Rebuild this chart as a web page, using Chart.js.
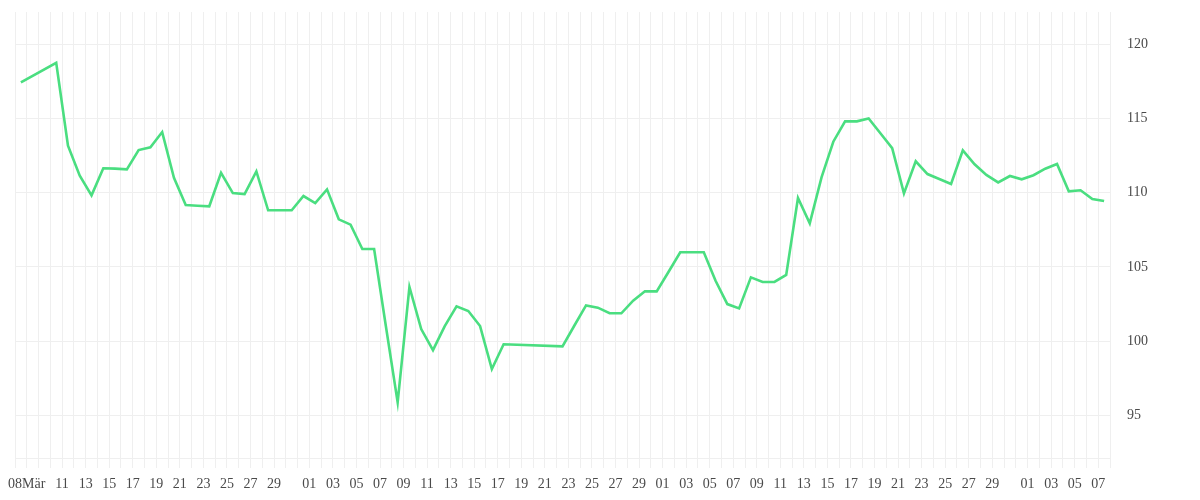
<!DOCTYPE html>
<html>
<head>
<meta charset="utf-8">
<script src="https://cdn.jsdelivr.net/npm/chart.js@4.4.1/dist/chart.umd.min.js"></script>
<style>
  html, body { margin: 0; padding: 0; background: #fff; }
  #wrap { width: 1200px; height: 500px; }
</style>
</head>
<body>
<div id="wrap"><canvas id="price-chart"></canvas></div>
<script>
// Daily closing values, 2024 (MM-DD)
const dates = [
  '03-08', '03-11', '03-12', '03-13', '03-14', '03-15', '03-16', '03-17', '03-18', '03-19',
  '03-20', '03-21', '03-22', '03-23', '03-24', '03-25', '03-26', '03-27', '03-28', '03-29',
  '03-30', '03-31', '04-01', '04-02', '04-03', '04-04', '04-05', '04-06', '04-07', '04-08',
  '04-09', '04-10', '04-11', '04-12', '04-13', '04-14', '04-15', '04-16', '04-17', '04-18',
  '04-23', '04-24', '04-25', '04-26', '04-27', '04-28', '04-29', '04-30', '05-01', '05-02',
  '05-03', '05-04', '05-05', '05-06', '05-07', '05-08', '05-09', '05-10', '05-11', '05-12',
  '05-13', '05-14', '05-15', '05-16', '05-17', '05-18', '05-19', '05-20', '05-21', '05-22',
  '05-23', '05-24', '05-25', '05-26', '05-27', '05-28', '05-29', '05-30', '05-31', '06-01',
  '06-02', '06-03', '06-04', '06-05', '06-06', '06-07', '06-08',
];
const prices = [
  117.43, 118.75, 113.16, 111.14, 109.82, 111.64, 111.62, 111.57, 112.87, 113.05,
  114.08, 111.0, 109.16, 109.12, 109.08, 111.34, 109.97, 109.9, 111.43, 108.81,
  108.81, 108.81, 109.77, 109.3, 110.22, 108.2, 107.84, 106.2, 106.2, 101.0,
  95.87, 103.64, 100.81, 99.39, 101.01, 102.34, 102.02, 101.01, 98.11, 99.78,
  99.64, 101.03, 102.4, 102.25, 101.87, 101.87, 102.72, 103.35, 103.35, 104.65,
  105.98, 105.98, 105.98, 104.06, 102.49, 102.2, 104.29, 103.98, 103.98, 104.46,
  109.64, 107.93, 111.03, 113.43, 114.8, 114.8, 115.0, 114.0, 113.0, 109.95,
  112.11, 111.25, 110.92, 110.58, 112.85, 111.91, 111.19, 110.69, 111.12, 110.9,
  111.17, 111.61, 111.93, 110.09, 110.16, 109.57, 109.43,
];
const yTicks = [95, 100, 105, 110, 115, 120];
const monthNames = ['Jan', 'Feb', 'Mär', 'Apr', 'Mai', 'Jun', 'Jul', 'Aug', 'Sep', 'Okt', 'Nov', 'Dez'];

const YEAR = 2024;
const DAY = 86400000;
const START = Date.UTC(YEAR, 2, 8);

function dayIndex(mmdd) {
  const [m, d] = mmdd.split('-').map(Number);
  return Math.round((Date.UTC(YEAR, m - 1, d) - START) / DAY);
}

// day grid lines sit half a day after each data point
function dayLabel(value) {
  const j = Math.round(value - 0.5);
  if (j === 0) return '08' + monthNames[2];
  if (j < 2) return '';
  const dt = new Date(START + j * DAY);
  const day = dt.getUTCDate();
  if (day % 2 === 0 || day === 31) return '';
  return String(day).padStart(2, '0');
}

const points = dates.map((d, i) => ({ x: dayIndex(d), y: prices[i] }));
const firstDay = -1, lastDay = dayIndex('06-08');

const labelFont = { family: '"Liberation Serif", serif', size: 14 };

new Chart(document.getElementById('price-chart'), {
  type: 'line',
  data: {
    datasets: [{
      data: points,
      borderColor: '#4ade80',
      borderWidth: 2.6,
      pointRadius: 0,
      tension: 0,
      fill: false,
    }],
  },
  options: {
    responsive: true,
    maintainAspectRatio: false,
    animation: false,
    layout: { padding: { left: 15, top: 12, right: 0, bottom: 0 } },
    plugins: { legend: { display: false }, tooltip: { enabled: false } },
    scales: {
      x: {
        type: 'linear',
        min: firstDay + 0.5,
        max: lastDay + 0.5,
        afterBuildTicks: (scale) => {
          const ticks = [];
          for (let j = firstDay; j <= lastDay; j++) ticks.push({ value: j + 0.5 });
          scale.ticks = ticks;
        },
        afterFit: (scale) => { scale.height = 42; },
        ticks: {
          autoSkip: false,
          maxRotation: 0,
          padding: 8,
          color: '#4a4a4a',
          font: labelFont,
          callback: dayLabel,
        },
        grid: { color: '#efefef', lineWidth: 1, drawTicks: true, tickLength: 10 },
        border: { color: '#efefef' },
      },
      y: {
        position: 'right',
        min: 92.12,
        max: 122.17,
        afterBuildTicks: (scale) => { scale.ticks = yTicks.map(v => ({ value: v })); },
        afterFit: (scale) => {
          scale.width = 90;
          // label padding should not push the plot area down
          scale.paddingTop = 0;
          scale.paddingBottom = 0;
        },
        ticks: {
          padding: 17,
          color: '#4a4a4a',
          font: labelFont,
        },
        grid: { color: '#efefef', lineWidth: 1, drawTicks: false },
        border: { display: false },
      },
    },
  },
});
</script>
</body>
</html>
